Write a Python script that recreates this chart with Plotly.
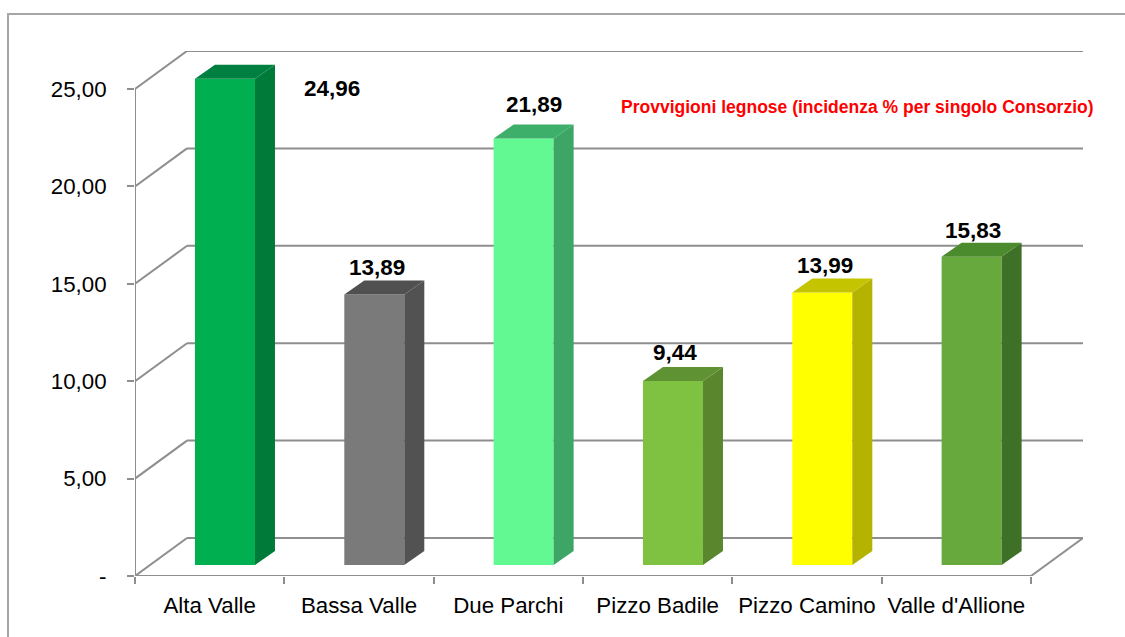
import plotly.graph_objects as go

categories = ["Alta Valle", "Bassa Valle", "Due Parchi", "Pizzo Badile", "Pizzo Camino", "Valle d'Allione"]
values = [24.96, 13.89, 21.89, 9.44, 13.99, 15.83]
value_labels = ["24,96", "13,89", "21,89", "9,44", "13,99", "15,83"]
y_ticks = [0, 5, 10, 15, 20, 25]
y_tick_labels = ["-", "5,00", "10,00", "15,00", "20,00", "25,00"]
front_colors = ["#00B050", "#7A7A7A", "#62F892", "#7FC241", "#FFFF00", "#67A93C"]
side_colors = ["#007A38", "#525252", "#3DA565", "#5A872E", "#B3B300", "#3F7028"]
top_colors = ["#008040", "#505050", "#3DAF6B", "#5F9233", "#C4C400", "#4C8A2E"]
title_text = "Provvigioni legnose (incidenza % per singolo Consorzio)"

# pixel geometry of the plot box
W, H = 1125, 637
L, R, T, B = 135, 1083, 51, 576
SLOT = (1031 - 135) / 6
UNIT = (576 - 89) / 25
WALL_DX, WALL_DY = (1083 - 1031) / SLOT, (576 - 538) / UNIT
BAR_DX, BAR_DY = 20 / SLOT, 14 / UNIT
BAR_W = 60 / SLOT
BAR_X_SHIFT = 15.3 / SLOT
BAR_BASE = 11 / UNIT
GREY = "#8E8E8E"
FONT = "Liberation Sans"

n = len(categories)
xs = list(range(n))
x0, x1 = -0.5, n - 0.5
fig = go.Figure()

for i, v in enumerate(values):
    right = i + BAR_X_SHIFT + BAR_W / 2
    left = i + BAR_X_SHIFT - BAR_W / 2
    top = BAR_BASE + v
    fig.add_trace(go.Scatter(
        x=[right, right + BAR_DX, right + BAR_DX, right, right],
        y=[BAR_BASE, BAR_BASE + BAR_DY, top + BAR_DY, top, BAR_BASE],
        mode="lines", line=dict(width=0), fill="toself", fillcolor=side_colors[i], hoverinfo="skip"))
    fig.add_trace(go.Scatter(
        x=[left, right, right + BAR_DX, left + BAR_DX, left],
        y=[top, top, top + BAR_DY, top + BAR_DY, top],
        mode="lines", line=dict(width=0), fill="toself", fillcolor=top_colors[i], hoverinfo="skip"))

fig.add_trace(go.Bar(
    x=[i + BAR_X_SHIFT for i in xs], y=values, base=BAR_BASE, width=BAR_W,
    marker=dict(color=front_colors, line=dict(width=0)), hoverinfo="skip"))

def seg(xa, ya, xb, yb, width=2, color=GREY):
    fig.add_shape(type="line", xref="x", yref="y", x0=xa, y0=ya, x1=xb, y1=yb,
                  layer="below", line=dict(color=color, width=width))

for t in y_ticks:
    seg(x0, t, x0 + WALL_DX, t + WALL_DY)
    seg(x0 + WALL_DX, t + WALL_DY, x1 + WALL_DX, t + WALL_DY)
seg(x0, 0, x0, y_ticks[-1])
seg(x0, 0, x1, 0)
seg(x1, 0, x1 + WALL_DX, WALL_DY)

label_dx = [107, 3, 10, 2, 3, 1]
label_dy = [-24, 13, 20, 15, 13, 12]
for i, v in enumerate(values):
    fig.add_annotation(
        x=i + BAR_X_SHIFT, y=BAR_BASE + v + BAR_DY, text="<b>" + value_labels[i] + "</b>", showarrow=False,
        xshift=label_dx[i], yshift=label_dy[i],
        font=dict(family=FONT, size=22.5, color="black"), xanchor="center", yanchor="middle")

pw, ph = R - L, B - T
fig.add_annotation(xref="paper", yref="paper", x=(857 - L) / pw, y=(B - 107) / ph,
                   text="<b>" + title_text + "</b>", showarrow=False,
                   font=dict(family=FONT, size=17.5, color="#FF0000"), xanchor="center", yanchor="middle")

# outer frame, running off the right and bottom edges of the picture
fig.add_shape(type="rect", xref="paper", yref="paper", layer="below",
              x0=(8 - L) / pw, x1=(W + 10 - L) / pw, y0=(B - H - 10) / ph, y1=(B - 14) / ph,
              line=dict(color="#A6A6A6", width=2), fillcolor="rgba(0,0,0,0)")

fig.update_layout(
    width=W, height=H, autosize=False, showlegend=False, barmode="overlay",
    paper_bgcolor="white", plot_bgcolor="white",
    margin=dict(l=L, r=W - R, t=T, b=H - B, pad=0),
    font=dict(family=FONT, size=22.3, color="black"),
    xaxis=dict(range=[x0, x1 + WALL_DX], tickmode="array", tickvals=xs, ticktext=categories,
               ticks="", showgrid=False, zeroline=False, showline=False, ticklabelstandoff=14,
               tickangle=0, automargin=False,
               tickfont=dict(family=FONT, size=22.3, color="black"),
               minor=dict(tickmode="array", tickvals=[x0 + k for k in range(n + 1)], ticks="outside",
                          ticklen=7, tickwidth=2, tickcolor=GREY, showgrid=False)),
    yaxis=dict(range=[0, y_ticks[-1] + WALL_DY], tickmode="array", tickvals=y_ticks, ticktext=y_tick_labels,
               ticks="outside", ticklen=7, tickwidth=2, tickcolor=GREY, showgrid=False, zeroline=False,
               showline=False, ticklabelstandoff=16, automargin=False,
               tickfont=dict(family=FONT, size=22.3, color="black")),
)

fig.write_html("out.html", config={"displayModeBar": False},
               post_script="document.body.style.margin='0';document.body.style.overflow='hidden';")
